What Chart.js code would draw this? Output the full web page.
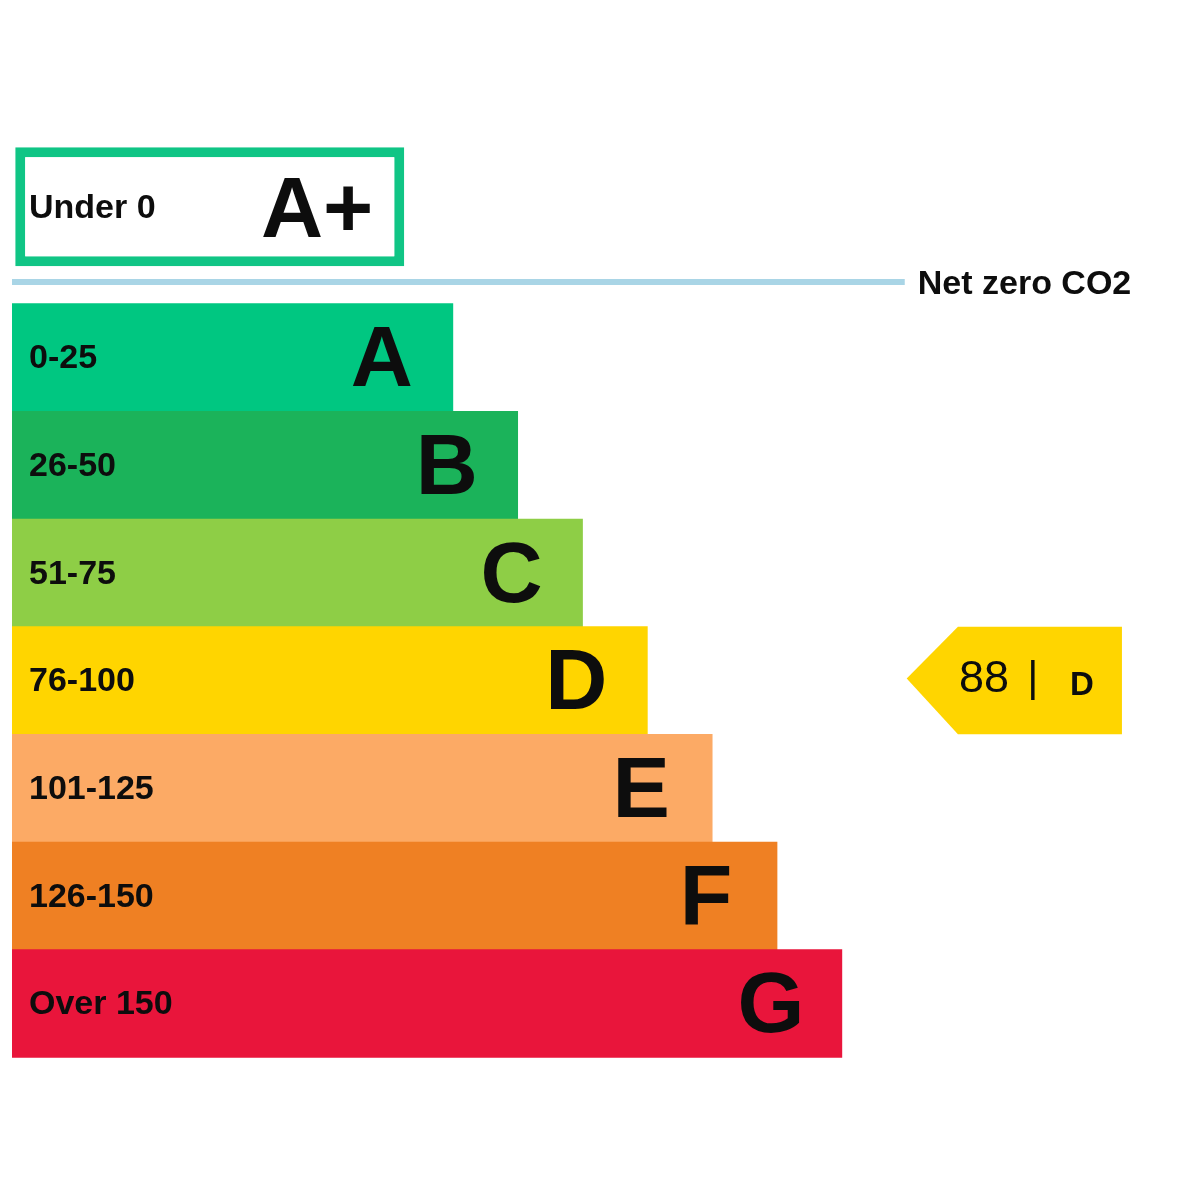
<!DOCTYPE html>
<html>
<head>
<meta charset="utf-8">
<script src="https://cdn.jsdelivr.net/npm/chart.js@4.4.1/dist/chart.umd.min.js"></script>
<style>
  html, body { margin: 0; padding: 0; background: #ffffff; }
  #wrap { position: absolute; left: 0; top: 0; width: 1200px; height: 1200px; }
</style>
</head>
<body>
<div id="wrap"><canvas id="c" width="1200" height="1200"></canvas></div>
<script>
// ---- data ----
const grades = ['A', 'B', 'C', 'D', 'E', 'F', 'G'];
const ranges = ['0-25', '26-50', '51-75', '76-100', '101-125', '126-150', 'Over 150'];
const barLengths = [68, 78, 88, 98, 108, 118, 128];
const gradeColors = ['#00C781', '#1BB35A', '#8ECE46', '#FFD500', '#FCAA65', '#EF8023', '#E9153B'];
const topGrade = 'A+';
const topRange = 'Under 0';
const topBar = [0.5, 60.5];
const netZeroLabel = 'Net zero CO2';
const currentValue = 88;
const currentGrade = 'D';

// ---- layout (scale units) ----
const TOP_ROW = -0.40;
const NETZERO_ROW = 0.30;
const NETZERO_END = 137.7;
const PTR_TIP = 138.0, PTR_SHOULDER = 145.9, PTR_RIGHT = 171.2;
const FONT = '"Liberation Sans", Arial, sans-serif';
const TXT = '#0d0d0d';

const overlay = {
  id: 'overlay',
  afterDatasetsDraw(chart) {
    const ctx = chart.ctx;
    const xs = chart.scales.x, ys = chart.scales.y;
    const x0 = xs.getPixelForValue(0);
    ctx.save();

    // net zero line
    const yn = ys.getPixelForValue(NETZERO_ROW);
    ctx.strokeStyle = '#A9D5E6';
    ctx.lineWidth = 6;
    ctx.beginPath();
    ctx.moveTo(x0, yn);
    ctx.lineTo(xs.getPixelForValue(NETZERO_END), yn);
    ctx.stroke();
    ctx.fillStyle = TXT;
    ctx.font = 'bold 34px ' + FONT;
    ctx.textAlign = 'left';
    ctx.textBaseline = 'alphabetic';
    ctx.fillText(netZeroLabel, xs.getPixelForValue(NETZERO_END) + 13, yn + 12);

    // A+ box texts
    const yt = ys.getPixelForValue(TOP_ROW);
    ctx.font = 'bold 34px ' + FONT;
    ctx.fillText(topRange, x0 + 17, yt + 11);
    ctx.font = 'bold 86px ' + FONT;
    ctx.fillText(topGrade, x0 + 249, yt + 30);

    // grade bars texts
    const meta = chart.getDatasetMeta(1);
    meta.data.forEach((bar, i) => {
      ctx.fillStyle = TXT;
      ctx.font = 'bold 34px ' + FONT;
      ctx.textAlign = 'left';
      ctx.fillText(ranges[i], x0 + 17, bar.y + 11);
      ctx.font = 'bold 86px ' + FONT;
      ctx.textAlign = 'center';
      ctx.fillText(grades[i], bar.x - 71, bar.y + 29);
    });

    // current rating pointer
    const gi = grades.indexOf(currentGrade);
    const gb = meta.data[gi];
    const half = gb.height / 2;
    const cy = gb.y;
    const xt = xs.getPixelForValue(PTR_TIP), xsh = xs.getPixelForValue(PTR_SHOULDER), xr = xs.getPixelForValue(PTR_RIGHT);
    ctx.fillStyle = gradeColors[gi];
    ctx.beginPath();
    ctx.moveTo(xt, cy - 2);
    ctx.lineTo(xsh, cy - half);
    ctx.lineTo(xr, cy - half);
    ctx.lineTo(xr, cy + half);
    ctx.lineTo(xsh, cy + half);
    ctx.closePath();
    ctx.fill();
    ctx.fillStyle = TXT;
    ctx.textAlign = 'left';
    ctx.font = '45px ' + FONT;
    ctx.fillText(String(currentValue), xsh + 1, cy + 12);
    ctx.textAlign = 'center';
    ctx.font = '43px ' + FONT;
    ctx.fillText('|', xsh + 75, cy + 11);
    ctx.textAlign = 'left';
    ctx.font = 'bold 33px ' + FONT;
    ctx.fillText(currentGrade, xsh + 112, cy + 15);

    ctx.restore();
  }
};

new Chart(document.getElementById('c'), {
  type: 'bar',
  data: {
    datasets: [
      {
        label: topGrade,
        data: [{ x: topBar, y: TOP_ROW }],
        backgroundColor: '#ffffff',
        borderColor: '#10C585',
        borderWidth: 10,
        borderSkipped: false,
        barPercentage: 1.105,
        categoryPercentage: 1,
        grouped: false
      },
      {
        label: 'grades',
        data: barLengths.map((v, i) => ({ x: v, y: i + 1 })),
        backgroundColor: gradeColors,
        borderWidth: 0,
        barPercentage: 1,
        categoryPercentage: 1,
        grouped: false
      }
    ]
  },
  options: {
    indexAxis: 'y',
    responsive: false,
    devicePixelRatio: 1,
    animation: false,
    layout: { padding: { left: 12, right: 21, top: 0, bottom: 0 } },
    plugins: { legend: { display: false }, tooltip: { enabled: false } },
    scales: {
      x: { type: 'linear', min: 0, max: 180, display: false, offset: false, grid: { display: false } },
      y: {
        type: 'linear', reverse: true, min: -2.32, max: 8.825, display: false, offset: false,
        grid: { display: false, offset: false },
        ticks: { stepSize: 1, includeBounds: false }
      }
    }
  },
  plugins: [overlay]
});
</script>
</body>
</html>
